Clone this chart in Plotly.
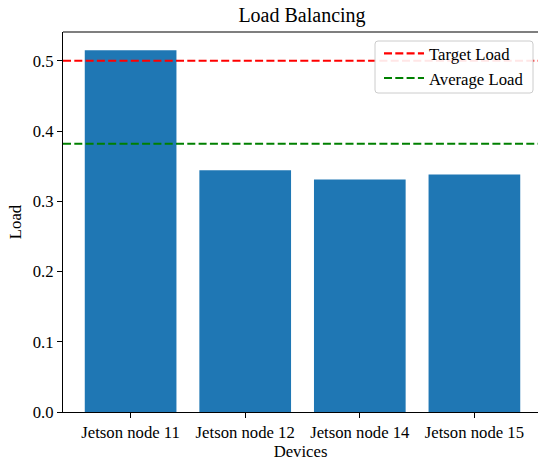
import numpy as np
import plotly.graph_objects as go

devices = ["Jetson node 11", "Jetson node 12", "Jetson node 14", "Jetson node 15"]
loads = [0.515, 0.344, 0.331, 0.338]
target_load = 0.5
average_load = float(np.mean(loads))

FONT = "Liberation Serif"
x_range = [-0.59, 3.555]
y_range = [0, 0.541]

# plot area geometry in pixels
L, T, B, W, H = 63, 32, 52, 538, 464
PW, PH = W - L, H - T - B


def px_x(x):
    return (x - L) / PW


def px_y(y):
    return (H - B - y) / PH


# legend frame (rounded rect) drawn as a path in paper coords
x0, x1, y0, y1, r = 375, 533, 41, 93, 3
pts = (f"M {px_x(x0 + r)},{px_y(y0)} L {px_x(x1 - r)},{px_y(y0)} "
       f"Q {px_x(x1)},{px_y(y0)} {px_x(x1)},{px_y(y0 + r)} "
       f"L {px_x(x1)},{px_y(y1 - r)} Q {px_x(x1)},{px_y(y1)} {px_x(x1 - r)},{px_y(y1)} "
       f"L {px_x(x0 + r)},{px_y(y1)} Q {px_x(x0)},{px_y(y1)} {px_x(x0)},{px_y(y1 - r)} "
       f"L {px_x(x0)},{px_y(y0 + r)} Q {px_x(x0)},{px_y(y0)} {px_x(x0 + r)},{px_y(y0)} Z")

fig = go.Figure()
fig.add_trace(go.Bar(x=list(range(len(devices))), y=loads, width=0.8,
                     marker=dict(color="#1f77b4", line=dict(width=0)),
                     showlegend=False))
fig.add_trace(go.Scatter(x=x_range, y=[target_load, target_load], mode="lines",
                         name="Target Load",
                         line=dict(color="#ff0000", width=2.1, dash="8px,3.3px")))
fig.add_trace(go.Scatter(x=x_range, y=[average_load, average_load], mode="lines",
                         name="Average Load",
                         line=dict(color="#008000", width=2.1, dash="8px,3.3px")))

fig.update_layout(
    width=W, height=H,
    margin=dict(l=L, r=0, t=T, b=B),
    paper_bgcolor="white", plot_bgcolor="white",
    font=dict(family=FONT, size=16.7, color="black"),
    title=dict(text="Load Balancing", x=302 / W, xanchor="center",
               y=1 - 15 / H, yanchor="middle", font=dict(size=20)),
    legend=dict(x=px_x(379), y=px_y(36), xanchor="left", yanchor="top",
                bgcolor="rgba(0,0,0,0)", borderwidth=0,
                font=dict(size=16.7), itemwidth=40, tracegroupgap=0),
    shapes=[
        dict(type="line", xref="paper", yref="paper", x0=0, x1=1, y0=1, y1=1,
             line=dict(color="black", width=1.1)),
        dict(type="path", xref="paper", yref="paper", path=pts, layer="above",
             fillcolor="rgba(255,255,255,0.9)", line=dict(color="#cccccc", width=1)),
    ],
)
fig.update_xaxes(range=x_range, tickmode="array", tickvals=list(range(len(devices))),
                 ticktext=devices, showline=True, linecolor="black", linewidth=1.1,
                 ticks="outside", ticklen=5, tickwidth=1.1, tickcolor="black",
                 showgrid=False, zeroline=False,
                 title=dict(text="Devices", standoff=4, font=dict(size=16.7)))
fig.update_yaxes(range=y_range, tickmode="array", tickvals=[0, 0.1, 0.2, 0.3, 0.4, 0.5],
                 ticktext=["0.0", "0.1", "0.2", "0.3", "0.4", "0.5"],
                 showline=True, linecolor="black", linewidth=1.1,
                 ticks="outside", ticklen=5, tickwidth=1.1, tickcolor="black",
                 showgrid=False, zeroline=False,
                 title=dict(text="Load", standoff=6, font=dict(size=16.7)))
fig.write_html("out.html", post_script="document.body.style.margin='0';",
               config={"displayModeBar": False})
